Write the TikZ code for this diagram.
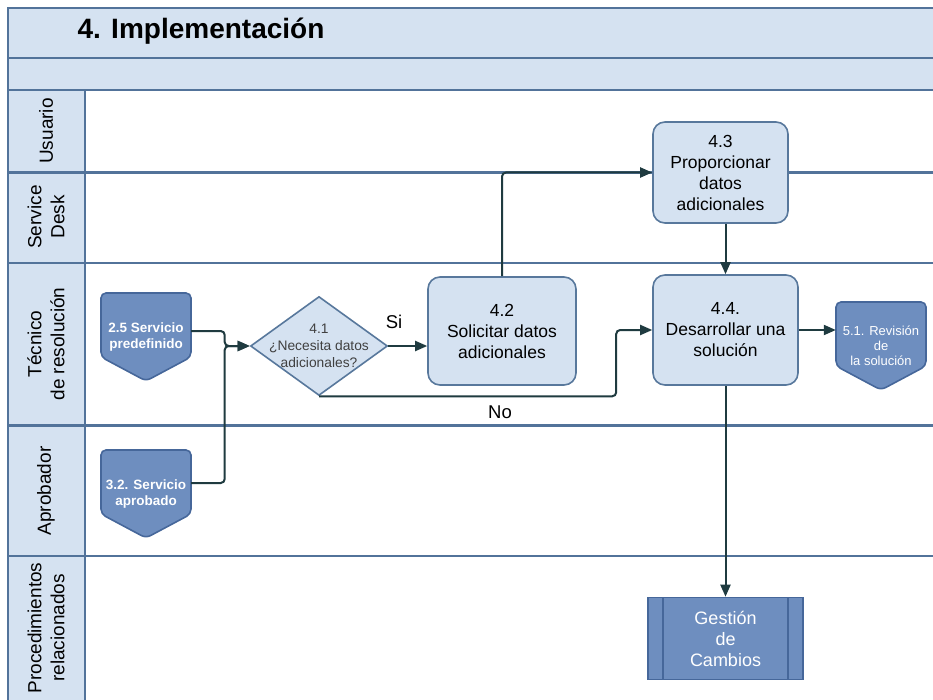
\documentclass[tikz,border=0pt]{standalone}
\usepackage{fontspec}
\setmainfont{Liberation Sans}
\usetikzlibrary{shapes.geometric,arrows.meta}

\definecolor{lightlane}{HTML}{D5E2F1}
\definecolor{laneline}{HTML}{52739A}
\definecolor{boxline}{HTML}{58789C}
\definecolor{darkblue}{HTML}{6E8EBF}
\definecolor{darkline}{HTML}{46679A}
\definecolor{flowline}{HTML}{1F3B40}

\tikzset{
  lane/.style={draw=laneline, line width=2.2pt},
  lanetitle/.style={rotate=90, align=center, font=\fontsize{19}{23}\selectfont},
  process/.style={draw=boxline, fill=lightlane, line width=1.6pt, rounded corners=12pt,
    align=center, font=\fontsize{17.5}{21}\selectfont},
  decision/.style={diamond, draw=boxline, fill=lightlane, line width=1.6pt,
    minimum width=137pt, minimum height=99pt, inner sep=0pt},
  dectext/.style={align=center, text=black!75, font=\fontsize{13.8}{17}\selectfont},
  offpage/.style={draw=darkline, fill=darkblue, line width=1.6pt, rounded corners=5pt},
  offtext/.style={minimum width=90pt, minimum height=88pt, inner sep=0pt, align=center,
    text=white, font=\bfseries\fontsize{13.5}{15.5}\selectfont},
  subproc/.style={draw=darkline, fill=darkblue, line width=1.6pt, minimum width=155pt,
    minimum height=82pt, align=center, text=white, font=\fontsize{18}{21}\selectfont,
    path picture={
      \draw[darkline, line width=1.4pt] ([xshift=15pt]path picture bounding box.north west)
        -- ([xshift=15pt]path picture bounding box.south west);
      \draw[darkline, line width=1.4pt] ([xshift=-15pt]path picture bounding box.north east)
        -- ([xshift=-15pt]path picture bounding box.south east);}},
  flow/.style={draw=flowline, line width=2pt, rounded corners=4pt,
    -{Triangle[length=12pt,width=10pt]}},
  lbl/.style={font=\fontsize{18.5}{20}\selectfont}
}

% off-page connector: name, x, y, text
\newcommand{\conector}[5][]{%
  \draw[offpage] (#3-45,#4-44) -- (#3+45,#4-44) -- (#3+45,#4+20) -- (#3,#4+44)
    -- (#3-45,#4+20) -- cycle;
  \node[offtext,#1] (#2) at (#3,#4) {#5};}

\begin{document}
\begin{tikzpicture}[x=1pt, y=-1pt]
	\useasboundingbox (0,0) rectangle (933,700);
	%header + lane background
		\fill[lightlane] (8,8) rectangle (933,90);
		\fill[lightlane] (8,90) rectangle (85,700);
		\fill[white] (85,90) rectangle (933,700);
	%lane lines
		\draw[lane] (8,700) -- (8,8) -- (933,8);
		\draw[lane] (8,58) -- (933,58);
		\draw[lane] (8,90) -- (933,90);
		\draw[lane] (85,90) -- (85,700);
		\foreach \y in {172.5,263,425.5,556}
			\draw[lane] (8,\y) -- (933,\y);
	%title + lane names
		\node[anchor=west, font=\bfseries\fontsize{28}{30}\selectfont] (titulo) at (74,31) {4. Implementación};
		\node[lanetitle] (usuario) at (46,131) {Usuario};
		\node[lanetitle] (sdesk) at (46,217) {Service\\Desk};
		\node[lanetitle] (tecnico) at (46,344) {Técnico\\de resolución};
		\node[lanetitle] (aprob) at (46,491) {Aprobador};
		\node[lanetitle] (proced) at (46,628) {Procedimientos\\relacionados};
	%connectors from other procedures
		\conector{s25}{146}{337}{2.5 Servicio\\predefinido}
		\conector{s32}{146}{494}{3.2. Servicio\\aprobado}
		\conector[font=\fontsize{13}{15}\selectfont]{r51}{881}{346}{5.1. Revisión\\de\\la solución}
	%activities
		\node[decision, label={[dectext]center:{4.1\\¿Necesita datos\\adicionales?}}] (d41) at (319,346) {};
		\node[process, minimum width=148pt, minimum height=108pt] (b42) at (502,331) {4.2\\Solicitar datos\\adicionales};
		\node[process, minimum width=135pt, minimum height=101pt] (b43) at (720.5,172.5) {4.3\\Proporcionar\\datos\\adicionales};
		\node[process, minimum width=145pt, minimum height=110pt] (b44) at (725.5,330) {4.4.\\Desarrollar una\\solución};
		\node[subproc] (gc) at (725.5,638.5) {Gestión\\de\\Cambios};
	%flow
		\coordinate (j1) at ([xshift=-25pt]d41.west);
		\draw[flow] ([yshift=6pt]s25.east) -| (j1) -- (d41.west);
		\draw[flow] ([yshift=11pt]s32.east) -| (j1) -- (d41.west);
		\draw[flow] (d41.east) -- (d41.east -| b42.west);
		\node[lbl] (si) at (394,322) {Si};
		\draw[flow] (d41.south) -| ([xshift=-36pt]b44.west) -- (b44.west);
		\node[lbl] (no) at (500,412) {No};
		\draw[flow] (b42.north) |- (b43.west);
		\draw[flow] (b43.south -| b44.north) -- (b44.north);
		\draw[flow] (b44.east) -- (b44.east -| r51.west);
		\draw[flow] (b44.south) -- (gc.north);
\end{tikzpicture}
\end{document}
